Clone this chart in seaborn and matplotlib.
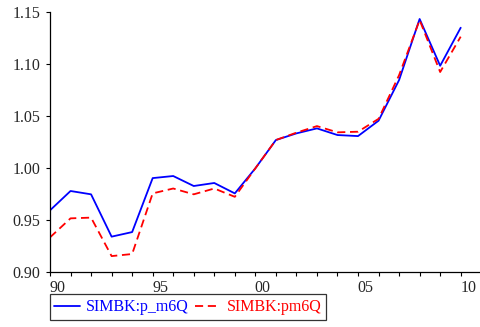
import matplotlib
matplotlib.use("Agg")
import matplotlib.pyplot as plt
import matplotlib.transforms as mtransforms
import seaborn as sns
import pandas as pd

years = list(range(1990, 2011))
p_m6q = [0.959, 0.9776, 0.9744, 0.9337, 0.9381, 0.990, 0.992, 0.9824, 0.9853, 0.9753,
         0.9994, 1.0266, 1.033, 1.0378, 1.0314, 1.0304, 1.0452, 1.0843, 1.143, 1.098, 1.1346]
pm6q = [0.933, 0.9513, 0.952, 0.915, 0.917, 0.9753, 0.980, 0.9744, 0.980, 0.972,
        0.9994, 1.0266, 1.0337, 1.040, 1.034, 1.0346, 1.047, 1.089, 1.142, 1.092, 1.126]
series_names = ["SIMBK:p_m6Q", "SIMBK:pm6Q"]
xtick_years = [1990, 1995, 2000, 2005, 2010]
xtick_labels = ["90", "95", "00", "05", "10"]
yticks = [0.90, 0.95, 1.00, 1.05, 1.10, 1.15]

df = pd.DataFrame({"year": years, series_names[0]: p_m6q, series_names[1]: pm6q})

sns.set_style("white")
plt.rcParams["font.family"] = ["Liberation Serif", "DejaVu Serif"]
plt.rcParams["font.size"] = 11.5

fig = plt.figure(figsize=(4.8, 3.27), dpi=100)
ax = fig.add_axes([50/480, (327-271.7)/327, 1 - 50/480, (271.7-11.7)/327])

sns.lineplot(data=df, x="year", y=series_names[0], ax=ax, color="#0000ff",
             linewidth=1.3, label=series_names[0], legend=False)
sns.lineplot(data=df, x="year", y=series_names[1], ax=ax, color="#ff0000",
             linewidth=1.3, label=series_names[1], legend=False)
ax.lines[1].set_dashes((4.5, 2.6))

ax.set_xlim(1990, 2010.94)
ax.set_ylim(0.90, 1.15)
ax.set_xlabel("")
ax.set_ylabel("")
ax.set_yticks(yticks)
ax.set_yticklabels([f"{v:.2f}" for v in yticks])
ax.set_xticks(xtick_years)
ax.set_xticklabels(xtick_labels)
ax.set_xticks(years, minor=True)
for s in ["top", "right"]:
    ax.spines[s].set_visible(False)
for s in ["left", "bottom"]:
    ax.spines[s].set_color("black")
    ax.spines[s].set_linewidth(0.9)
ax.tick_params(axis="both", which="both", direction="out", length=3.2, width=0.8,
               color="black", bottom=True, left=True)
ax.tick_params(axis="y", pad=3.5)
ax.tick_params(axis="x", pad=3)
offset = mtransforms.ScaledTranslation(7.5/100, 0, fig.dpi_scale_trans)
for lbl in ax.get_xticklabels():
    lbl.set_transform(lbl.get_transform() + offset)

handles = ax.lines[:2]
leg = fig.legend(handles, series_names, ncol=2, loc="lower left",
                 bbox_to_anchor=(49.5/480, (327-320)/327),
                 frameon=True, fancybox=False, edgecolor="black",
                 handlelength=1.6, handletextpad=0.4, columnspacing=0.35,
                 borderpad=0.3, borderaxespad=0, fontsize=11.5)
leg.get_frame().set_linewidth(0.9)
for t, c in zip(leg.get_texts(), ["#0000ff", "#ff0000"]):
    t.set_color(c)

fig.savefig("out.png", dpi=100, facecolor="white")
